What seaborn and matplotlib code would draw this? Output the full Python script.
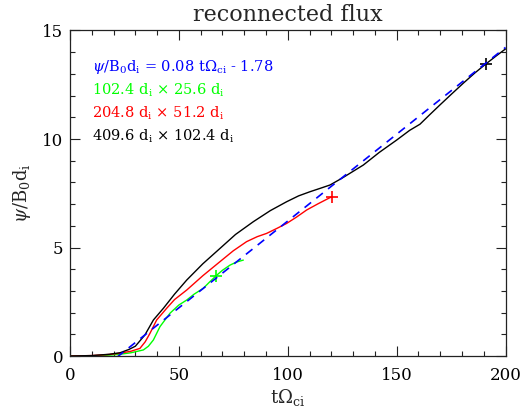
import numpy as np
import matplotlib
matplotlib.use('Agg')
import matplotlib.pyplot as plt
from matplotlib.ticker import MultipleLocator
import seaborn as sns

# reconnected flux for three box sizes
t_small = [0, 10, 18, 23, 28, 33.7, 36, 38.3, 41.3, 45.9, 50, 53.6, 57, 61.2, 64, 67.1, 70, 73.5, 76.5, 79.6]
psi_small = [0, 0.01, 0.04, 0.08, 0.15, 0.28, 0.45, 0.74, 1.35, 1.97, 2.35, 2.58, 2.85, 3.12, 3.4, 3.70, 3.95, 4.19, 4.33, 4.42]

t_mid = [0, 10, 18, 23, 28, 32.1, 34.5, 36.7, 39.8, 44.4, 48, 53.6, 61, 68.9, 75, 81.1, 86, 90.3, 95, 99.5, 104, 108.7, 114, 120.2]
psi_mid = [0, 0.02, 0.07, 0.13, 0.22, 0.35, 0.65, 1.04, 1.66, 2.2, 2.6, 3.04, 3.7, 4.35, 4.85, 5.27, 5.5, 5.65, 5.88, 6.11, 6.4, 6.73, 7.02, 7.34]

t_big = [0, 10, 18, 23, 27, 30, 34.4, 38.3, 42.9, 48, 53.6, 61, 68.9, 76, 84.2, 92, 99.5, 105, 110.2, 115, 119.4,
         125, 134.7, 142, 150, 156, 160.7, 165, 169.9, 175, 180.6, 186, 191, 196, 200]
psi_big = [0, 0.02, 0.08, 0.15, 0.3, 0.45, 0.97, 1.66, 2.2, 2.85, 3.5, 4.25, 4.96, 5.6, 6.19, 6.7, 7.11, 7.38, 7.57, 7.73, 7.88,
           8.2, 8.8, 9.38, 9.95, 10.4, 10.68, 11.1, 11.57, 12.05, 12.57, 13.05, 13.46, 13.85, 14.15]

# end markers (+)
mark_t = [67.1, 120.2, 191.0]
mark_psi = [3.70, 7.34, 13.46]

# linear fit psi = 0.08 t - 1.78, endpoints
fit_t = [0, 200]
fit_psi = [-1.78, 14.22]

labels = [r'$\psi$/B$_0$d$_\mathrm{i}$ = 0.08 t$\Omega_\mathrm{ci}$ - 1.78',
          r'102.4 d$_\mathrm{i}$ $\times$ 25.6 d$_\mathrm{i}$',
          r'204.8 d$_\mathrm{i}$ $\times$ 51.2 d$_\mathrm{i}$',
          r'409.6 d$_\mathrm{i}$ $\times$ 102.4 d$_\mathrm{i}$']
colors = ['#0000ff', '#00ff00', '#ff0000', 'black']

sns.set_style('ticks')
plt.rcParams['font.family'] = ['DejaVu Serif']
plt.rcParams['mathtext.fontset'] = 'dejavuserif'

fig, ax = plt.subplots(figsize=(5.24, 4.11), dpi=100)
fig.subplots_adjust(left=0.1336, right=0.9647, bottom=0.1338, top=0.9258)

sns.lineplot(x=t_small, y=psi_small, color=colors[1], lw=1.0, ax=ax, legend=False)
sns.lineplot(x=t_mid, y=psi_mid, color=colors[2], lw=1.0, ax=ax, legend=False)
sns.lineplot(x=t_big, y=psi_big, color=colors[3], lw=1.0, ax=ax, legend=False)
for tt, pp, c in zip(mark_t, mark_psi, colors[1:]):
    ax.plot([tt], [pp], marker='+', ms=9, mew=1.2, color=c, ls='none')
sns.lineplot(x=fit_t, y=fit_psi, color=colors[0], lw=1.2, ax=ax, legend=False)
ax.lines[-1].set_dashes((5, 4))

ax.set_xlim(0, 200)
ax.set_ylim(0, 15)
ax.xaxis.set_major_locator(MultipleLocator(50))
ax.xaxis.set_minor_locator(MultipleLocator(10))
ax.yaxis.set_major_locator(MultipleLocator(5))
ax.yaxis.set_minor_locator(MultipleLocator(1))
ax.tick_params(which='both', direction='in', top=True, right=True, width=0.8, colors='#222222', labelcolor='black')
ax.tick_params(which='major', length=7, labelsize=12)
ax.tick_params(axis='x', which='major', pad=8)
ax.tick_params(axis='y', which='major', pad=5)
ax.tick_params(which='minor', length=3.5)
for s in ax.spines.values():
    s.set_color('#222222')
    s.set_linewidth(0.9)

ax.set_title('reconnected flux', fontsize=16, pad=7)
ax.set_xlabel(r't$\Omega_\mathrm{ci}$', fontsize=13, labelpad=2)
ax.set_ylabel(r'$\psi$/B$_0$d$_\mathrm{i}$', fontsize=13, labelpad=6)

for i, (lab, c) in enumerate(zip(labels, colors)):
    ax.text(0.05, 0.887 - 0.0705 * i, lab, color=c, fontsize=10.5, va='center', ha='left', transform=ax.transAxes)

fig.savefig('out.png', dpi=100)
